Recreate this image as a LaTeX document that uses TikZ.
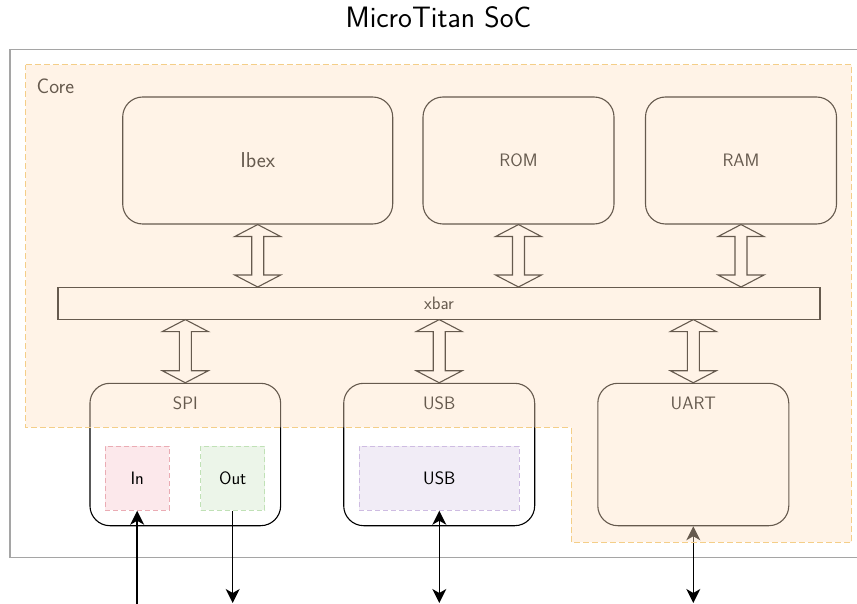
\documentclass[tikz,border=0pt]{standalone}
\usetikzlibrary{calc,arrows.meta}

\definecolor{coreFill}{RGB}{255,225,195}
\definecolor{coreEdge}{RGB}{244,206,136}
\definecolor{socEdge}{RGB}{165,165,165}
\definecolor{inFill}{RGB}{252,232,235}
\definecolor{inEdge}{RGB}{234,172,180}
\definecolor{outFill}{RGB}{236,245,233}
\definecolor{outEdge}{RGB}{192,225,182}
\definecolor{usbFill}{RGB}{241,236,246}
\definecolor{usbEdge}{RGB}{206,188,226}

% hollow double-headed bus arrow between two points on the same vertical
\newcommand\busarrow[2]{%
  \draw[bus] (#1) -- ($(#1)+(23,12)$) -- ($(#1)+(6,12)$) -- ($(#2)+(6,-12)$)
    -- ($(#2)+(23,-12)$) -- (#2) -- ($(#2)+(-23,-12)$) -- ($(#2)+(-6,-12)$)
    -- ($(#1)+(-6,12)$) -- ($(#1)+(-23,12)$) -- cycle;}

\begin{document}
\begin{tikzpicture}[x=1pt,y=-1pt,
  txt/.style={font=\sffamily\fontsize{18}{20}\selectfont},
  block/.style={draw=black, line width=1.1pt, rounded corners=20pt, fill=white,
    inner sep=0pt, txt},
  port/.style={draw, dashed, dash pattern=on 5pt off 3pt, line width=0.9pt,
    inner sep=0pt, minimum width=64pt, minimum height=64pt, txt},
  bus/.style={draw=black, line width=1.1pt, fill=white, line join=miter},
  wire/.style={line width=1.5pt, black,
    arrows={-Stealth[length=14pt,width=14pt,inset=4pt]}},
  wire2/.style={line width=1.5pt, black,
    arrows={Stealth[length=14pt,width=14pt,inset=4pt]-Stealth[length=14pt,width=14pt,inset=4pt]}},
]
\useasboundingbox (0,0) rectangle (857,604);
\clip (0,0) rectangle (857,604);

% SoC outline
\draw[socEdge, line width=1.5pt] (10,49.3) rectangle (875,557.5);

% core blocks
\node[block, minimum width=270pt, minimum height=127pt, font=\sffamily\fontsize{21.5}{24}\selectfont]
  (ibex) at (257.7,160.5) {Ibex};
\node[block, minimum width=191pt, minimum height=127pt] (rom) at (518.5,160.5) {ROM};
\node[block, minimum width=191pt, minimum height=127pt] (ram) at (741,160.5) {RAM};
\node[draw=black, line width=1.1pt, fill=white, minimum width=762pt, minimum height=31.5pt,
  inner sep=0pt, txt] (xbar) at (439,303.3) {xbar};

% peripherals
\node[block, minimum width=190.7pt, minimum height=142.4pt] (spi) at (185.3,454.5) {};
\node[block, minimum width=191pt, minimum height=142.4pt] (usb) at (439.2,454.5) {};
\node[block, minimum width=191pt, minimum height=142.4pt] (uart) at (693.3,454.5) {};
\node[txt] (spilbl) at (185.3,403) {SPI};
\node[txt] (usblbl) at (439.2,403) {USB};
\node[txt] (uartlbl) at (693.3,403) {UART};

\node[port, draw=inEdge, fill=inFill] (in) at (137.2,478.3) {In};
\node[port, draw=outEdge, fill=outFill] (out) at (232.7,478.3) {Out};
\node[port, draw=usbEdge, fill=usbFill, minimum width=160pt] (usbin) at (439.3,478.3) {USB};

% bus connections
\busarrow{ibex.south}{ibex.south |- xbar.north}
\busarrow{rom.south}{rom.south |- xbar.north}
\busarrow{ram.south}{ram.south |- xbar.north}
\busarrow{spi.north |- xbar.south}{spi.north}
\busarrow{usb.north |- xbar.south}{usb.north}
\busarrow{uart.north |- xbar.south}{uart.north}

% external pins
\coordinate (inpin) at (137.2,606);
\coordinate (outpin) at (232.7,603);
\coordinate (usbpin) at (439.3,603);
\coordinate (uartpin) at (693.3,603);
\draw[wire] (inpin) -- (in.south);
\draw[wire] (out.south) -- (outpin);
\draw[wire2] (usbin.south) -- (usbpin);
\draw[wire2] (uart.south) -- (uartpin);

% core region, laid over its blocks
\node[txt, font=\sffamily\fontsize{21}{24}\selectfont, anchor=west, inner sep=0pt]
  (corelbl) at (36.5,86) {Core};
\path[fill=coreFill, fill opacity=0.4] (25.5,65) -- (851.5,65) -- (851.5,542)
  -- (571,542) -- (571,427.3) -- (25.5,427.3) -- cycle;
\draw[coreEdge, line width=1pt, dash pattern=on 6pt off 3pt] (25.5,65) -- (851.5,65)
  -- (851.5,542) -- (571,542) -- (571,427.3) -- (25.5,427.3) -- cycle;

% title
\node[font=\sffamily\fontsize{29.5}{32}\selectfont, anchor=base] (title) at (438.5,28) {MicroTitan SoC};
\end{tikzpicture}
\end{document}
